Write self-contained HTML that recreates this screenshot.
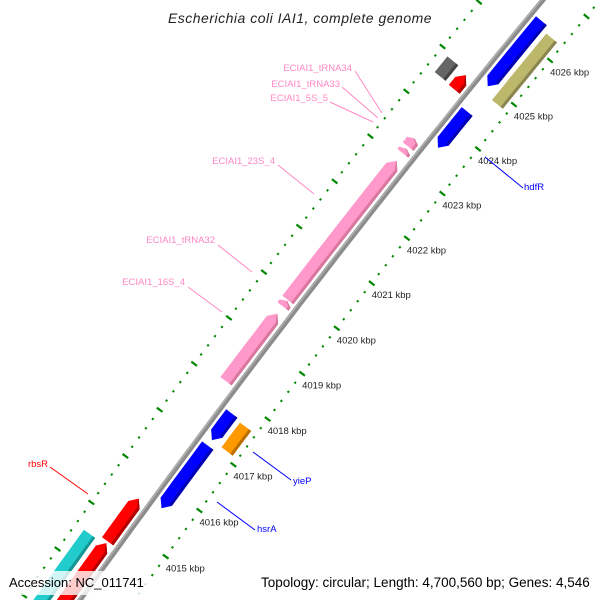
<!DOCTYPE html>
<html><head><meta charset="utf-8"><style>
html,body{margin:0;padding:0;background:#fff;overflow:hidden;width:600px;height:600px;}
svg{display:block;font-family:"Liberation Sans",sans-serif;overflow:hidden;}
</style></head><body>
<svg id="map" width="600" height="600" viewBox="0 0 600 600" xmlns="http://www.w3.org/2000/svg">
<rect x="0" y="0" width="600" height="600" fill="#fff"/>
<g id="rings"></g>
<g id="backbone"></g>
<g id="feats"></g>
<g id="ticklabels"></g>
<g font-size="9.5">
  <g fill="#ff88c4" stroke="#ff88c4">
    <line x1="355" y1="71" x2="382" y2="113" stroke-width="1"/><text stroke="none" x="352" y="71" text-anchor="end">ECIAI1_tRNA34</text>
    <line x1="342" y1="87" x2="378" y2="118"/><text stroke="none" x="340" y="87" text-anchor="end">ECIAI1_tRNA33</text>
    <line x1="330" y1="102" x2="373" y2="122"/><text stroke="none" x="328" y="101" text-anchor="end">ECIAI1_5S_5</text>
    <line x1="278" y1="165" x2="314" y2="194"/><text stroke="none" x="275" y="164" text-anchor="end">ECIAI1_23S_4</text>
    <line x1="218" y1="245" x2="252" y2="272"/><text stroke="none" x="215" y="243" text-anchor="end">ECIAI1_tRNA32</text>
    <line x1="188" y1="287" x2="222" y2="312"/><text stroke="none" x="185" y="285" text-anchor="end">ECIAI1_16S_4</text>
  </g>
  <line x1="50" y1="467" x2="88" y2="494" stroke="#ff0000"/><text fill="#ff0000" x="48" y="467" text-anchor="end">rbsR</text>
  <g stroke="#0000ff" fill="#0000ff">
    <line x1="485" y1="157" x2="523" y2="188"/><text stroke="none" x="524" y="190">hdfR</text>
    <line x1="253" y1="452" x2="291" y2="480"/><text stroke="none" x="293" y="484">yieP</text>
    <line x1="217" y1="502" x2="255" y2="530"/><text stroke="none" x="257" y="532">hsrA</text>
  </g>
</g>
<text x="300" y="23" text-anchor="middle" font-size="14" font-style="italic" fill="#222" letter-spacing="0.5">Escherichia coli IAI1, complete genome</text>
<rect x="5" y="571" width="142" height="24" fill="#fff" fill-opacity="0.8"/>
<text x="9" y="587" font-size="13" fill="#000">Accession: NC_011741</text>
<rect x="257" y="571" width="339" height="24" fill="#fff" fill-opacity="0.8"/>
<text x="261" y="587" font-size="13.5" fill="#000">Topology: circular; Length: 4,700,560 bp; Genes: 4,546</text>
</svg>
<script>
// data arrays
var featStart = [4024.96, 4024.82, 4023.58, 4017.12, 4017.12, 4015.64, 4024.55, 4024.57, 4023.12, 4023.27, 4023.33, 4019.87, 4019.73, 4018.09, 4014.62, 4012.5, 4012.5];
var featEnd   = [4026.44, 4026.32, 4024.39, 4017.66, 4017.70, 4017.00, 4024.87, 4024.92, 4023.22, 4023.37, 4023.45, 4022.95, 4019.85, 4019.57, 4015.54, 4014.58, 4014.54];
var featTier  = [1, 2, 1, 2, 1, 1, -1, -2, -1, -1, -1, -1, -1, -1, -1, -1, -2];
var featArrow = [-1, 0, -1, 0, -1, -1, 1, 0, 1, 1, 1, 1, 1, 1, 1, 1, 0];
var featName  = ['hdfr-neighbor','tan-feature','hdfr','yiep-orange','yiep','hsra','red-small','gray-feature','rrna-5s','trna33','trna34','rrna-23s','trna32','rrna-16s','rbsr','red-lower','cyan-feature'];
var featKind  = ['blue','tan','blue','orange','blue','blue','red','gray','pink','pink','pink','pink','pink','pink','red','red','cyan'];
var tickKbp   = [4013,4014,4015,4016,4017,4018,4019,4020,4021,4022,4023,4024,4025,4026,4027,4028];
var tickLabelKbp = [4015,4016,4017,4018,4019,4020,4021,4022,4023,4024,4025,4026];

var COLORS = {blue:['#0000ff','#0000b0'],tan:['#bdb76b','#8a8550'],orange:['#ff9900','#b86e00'],red:['#ff0000','#b00000'],gray:['#666666','#444444'],pink:['#ff99cc','#d9779f'],cyan:['#22cccc','#159494']};
var NS='http://www.w3.org/2000/svg';
var R=10720, Mx=313.5, My=300, nx=0.7916, ny=0.6108;
var Cx=Mx+nx*(R-6.7), Cy=My+ny*(R-6.7);
var phi0=Math.atan2(-ny,-nx);
function sOf(k){return 163.7+(k-4023)*57.3;}
function pt(k,r){var p=phi0+sOf(k)/R;return [Cx+(R-r)*Math.cos(p),Cy+(R-r)*Math.sin(p)];}
function P(a){return a[0].toFixed(1)+','+a[1].toFixed(1);}
function tierR(t){var a=Math.abs(t)===1?[5,19]:[24,38];return t>0?a:[-a[1],-a[0]];}

var bb=document.getElementById('backbone');
var d='';for(var k=4012.5;k<=4027.5;k+=0.5){d+=(d?'L':'M')+P(pt(k,0));}
var pth=document.createElementNS(NS,'path');


pth.setAttribute('d',d);pth.setAttribute('stroke','#8c8c8c');pth.setAttribute('stroke-width','5');pth.setAttribute('fill','none');
bb.appendChild(pth);
var pth2=document.createElementNS(NS,'path');


pth2.setAttribute('d',d);pth2.setAttribute('stroke','#b0b0b0');pth2.setAttribute('stroke-width','1.5');pth2.setAttribute('fill','none');pth2.setAttribute('transform','translate(-1,-1)');
bb.appendChild(pth2);

var rings=document.getElementById('rings');
var ringR=[44,-48];
for(var ri=0;ri<ringR.length;ri++){
  var rr=ringR[ri];
  for(var t=0;t<tickKbp.length;t++){
    for(var j=0;j<5;j++){
      var kk=tickKbp[t]+j*0.2;
      var half=j===0?3.5:1;
      var a=pt(kk,rr-half),b=pt(kk,rr+half);
      var ln=document.createElementNS(NS,'line');
      
      
      ln.setAttribute('x1',a[0]);ln.setAttribute('y1',a[1]);ln.setAttribute('x2',b[0]);ln.setAttribute('y2',b[1]);
      ln.setAttribute('stroke','#008800');ln.setAttribute('stroke-width','2.2');
      rings.appendChild(ln);
    }
  }
}
var tl=document.getElementById('ticklabels');
for(var t=0;t<tickLabelKbp.length;t++){
  var q=pt(tickLabelKbp[t],44);
  var tx=document.createElementNS(NS,'text');
  
  
  tx.setAttribute('x',q[0]);tx.setAttribute('y',q[1]+15);
  tx.setAttribute('font-size','9.5');tx.setAttribute('fill','#222');
  tx.textContent=tickLabelKbp[t]+' kbp';
  tl.appendChild(tx);
}

var fg=document.getElementById('feats');
for(var i=0;i<featStart.length;i++){
  var a0=featStart[i],a1=featEnd[i],rs=tierR(featTier[i]),r0=rs[0],r1=rs[1],rm=(r0+r1)/2;
  var head=Math.min(0.14,(a1-a0)*0.5);
  var outer=[],inner=[];
  var b0=a0,b1=a1;
  if(featArrow[i]===1)b1=a1-head;
  if(featArrow[i]===-1)b0=a0+head;
  var N=8;
  for(var j=0;j<=N;j++){var kk=b0+(b1-b0)*j/N;outer.push(pt(kk,r1));inner.push(pt(kk,r0));}
  var pts=[];
  if(featArrow[i]===-1)pts.push(pt(a0,rm));
  for(j=0;j<=N;j++)pts.push(inner[j]);
  if(featArrow[i]===1)pts.push(pt(a1,rm));
  for(j=N;j>=0;j--)pts.push(outer[j]);
  var col=COLORS[featKind[i]];
  var g=document.createElementNS(NS,'g');
  
  
  var poly=document.createElementNS(NS,'polygon');
  
  
  poly.setAttribute('points',pts.map(P).join(' '));
  poly.setAttribute('fill',col[0]);
  g.appendChild(poly);
  var sp=[];
  for(j=0;j<=N;j++)sp.push(pt(b0+(b1-b0)*j/N,r1));
  if(featArrow[i]===1)sp.push(pt(a1,rm));
  var sp2=[];
  if(featArrow[i]===1)sp2.push(pt(a1-0.02,rm));
  for(j=N;j>=0;j--)sp2.push(pt(b0+(b1-b0)*j/N,r1-3));
  var strip=document.createElementNS(NS,'polygon');
  
  
  strip.setAttribute('points',sp.concat(sp2).map(P).join(' '));
  strip.setAttribute('fill',col[1]);
  g.appendChild(strip);
  fg.appendChild(g);
}
</script>
</body></html>
